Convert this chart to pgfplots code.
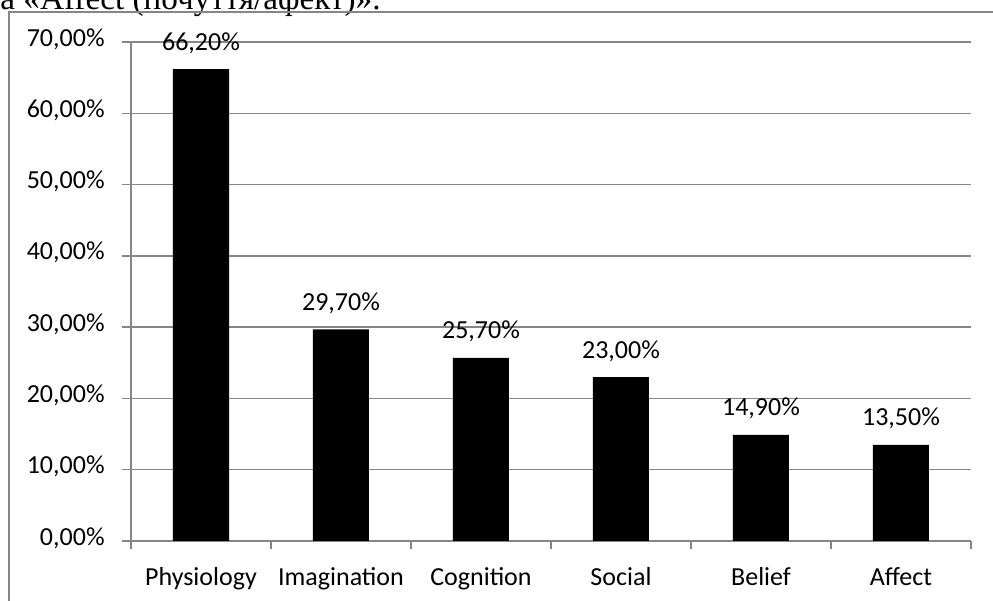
\documentclass[border=0pt]{standalone}
\usepackage{pgfplots}
\pgfplotsset{compat=1.18}
\usepackage{fontspec}
\setmainfont{Carlito}
\newfontfamily\tnr{Liberation Serif}
\definecolor{gridgray}{HTML}{868686}
\begin{document}
\begin{tikzpicture}
\clip (0,0) rectangle (496.5pt,300.5pt);
\node[anchor=base west, inner sep=0, font=\tnr\fontsize{16.6}{19}\selectfont] at (0pt,295.5pt) {а «Affect (почуття/афект)».};
\draw[color=gridgray, line width=0.75pt] (4.5pt,-5pt) -- (4.5pt,294.5pt) -- (500pt,294.5pt);
\begin{axis}[
  at={(65.5pt,30pt)}, anchor=south west,
  scale only axis, width=420pt, height=249.5pt,
  xmin=-0.5, xmax=5.5, ymin=0, ymax=70,
  axis x line*=bottom, axis y line*=left,
  axis line style={gridgray, line width=0.75pt},
  ymajorgrids, grid style={gridgray, line width=0.75pt},
  ytick={0,10,...,70},
  xtick={0,...,5},
  xticklabels={Physiology,Imagination,Cognition,Social,Belief,Affect},
  minor xtick={-0.5,0.5,...,5.5},
  tick align=outside,
  major x tick style={draw=none},
  major tick length=4.5pt, minor tick length=4pt,
  tick style={gridgray, line width=0.75pt},
  every tick label/.append style={font=\fontsize{13}{15}\selectfont},
  /pgf/number format/assume math mode=true,
  yticklabel={\pgfmathprintnumber[fixed,fixed zerofill,precision=2,use comma]{\tick}\%},
  yticklabel style={anchor=base east, inner sep=0pt, xshift=-8.5pt, yshift=-2pt},
  xticklabel style={anchor=base, inner sep=0pt, yshift=-18pt},
  ybar, bar width=28pt,
  clip=false,
  nodes near coords={\pgfmathprintnumber[fixed,fixed zerofill,precision=2,use comma]{\pgfplotspointmeta}\%},
  nodes near coords style={anchor=base, inner sep=0pt, yshift=9.5pt, font=\fontsize{13}{15}\selectfont},
]
\addplot[fill=black, draw=none] coordinates {(0,66.2) (1,29.7) (2,25.7) (3,23.0) (4,14.9) (5,13.5)};
\end{axis}
\end{tikzpicture}
\end{document}
